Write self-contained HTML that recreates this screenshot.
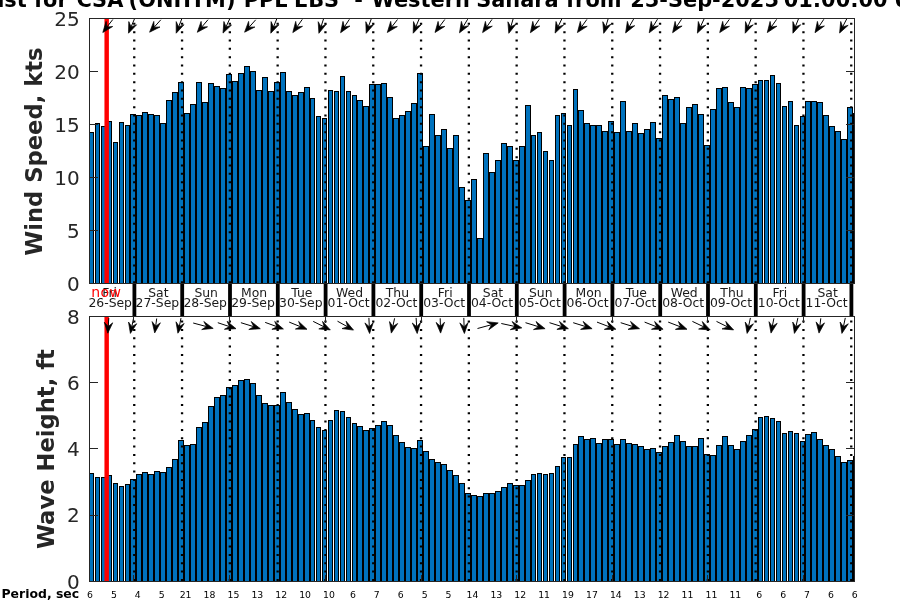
<!DOCTYPE html>
<html lang="en"><head><meta charset="utf-8"><title>Forecast</title>
<style>
html,body{margin:0;padding:0;background:#fff;}
body{width:900px;height:600px;overflow:hidden;position:relative;}
svg text{font-family:"DejaVu Sans","Liberation Sans",sans-serif;}
</style></head><body>
<svg width="900" height="600" viewBox="0 0 900 600" style="position:absolute;left:0;top:0;will-change:transform">
<text x="67.73" y="6.7" text-anchor="end" font-size="20.9" font-weight="bold" fill="#000">WW3 Forecast for</text>
<text y="6.7" font-size="20.9" font-weight="bold" fill="#000"><tspan x="76.4">CSA</tspan><tspan x="128.6">(ONHTM)</tspan><tspan x="243.7">PPL</tspan><tspan x="293.9">EBS</tspan><tspan x="354.2">-</tspan><tspan x="371.6">Western</tspan><tspan x="476.2">Sahara</tspan><tspan x="566.0">from</tspan><tspan x="630.2">25-Sep-2025</tspan><tspan x="783.7">01:00:00</tspan><tspan x="894.0">UTC</tspan></text>
<g shape-rendering="crispEdges">
<path d="M89 132H94V284H89ZM95 123H100V284H95ZM101 126H106V284H101ZM107 121H112V284H107ZM113 142H118V284H113ZM119 122H124V284H119ZM125 125H130V284H125ZM130 114H136V284H130ZM136 115H142V284H136ZM142 112H148V284H142ZM148 114H154V284H148ZM154 115H160V284H154ZM160 123H166V284H160ZM166 100H172V284H166ZM172 92H178V284H172ZM178 82H184V284H178ZM184 113H190V284H184ZM190 104H196V284H190ZM196 82H202V284H196ZM202 102H208V284H202ZM208 83H214V284H208ZM214 86H220V284H214ZM220 88H226V284H220ZM226 74H232V284H226ZM232 81H238V284H232ZM238 73H244V284H238ZM244 66H250V284H244ZM250 71H256V284H250ZM256 90H262V284H256ZM262 77H268V284H262ZM268 91H274V284H268ZM274 82H280V284H274ZM280 72H286V284H280ZM286 91H292V284H286ZM292 95H298V284H292ZM298 92H304V284H298ZM304 87H310V284H304ZM310 98H315V284H310ZM316 116H321V284H316ZM322 118H327V284H322ZM328 90H333V284H328ZM334 91H339V284H334ZM340 76H345V284H340ZM346 91H351V284H346ZM352 95H357V284H352ZM357 100H363V284H357ZM363 106H369V284H363ZM369 84H375V284H369ZM375 84H381V284H375ZM381 83H387V284H381ZM387 97H393V284H387ZM393 118H399V284H393ZM399 115H405V284H399ZM405 111H411V284H405ZM411 103H417V284H411ZM417 73H423V284H417ZM423 146H429V284H423ZM429 114H435V284H429ZM435 135H441V284H435ZM441 129H447V284H441ZM447 148H453V284H447ZM453 135H459V284H453ZM459 187H465V284H459ZM465 200H471V284H465ZM471 179H477V284H471ZM477 238H483V284H477ZM483 153H489V284H483ZM489 172H495V284H489ZM495 160H501V284H495ZM501 143H507V284H501ZM507 146H513V284H507ZM513 160H519V284H513ZM519 146H525V284H519ZM525 105H531V284H525ZM531 135H536V284H531ZM537 132H542V284H537ZM543 151H548V284H543ZM549 160H554V284H549ZM555 115H560V284H555ZM561 113H566V284H561ZM567 125H572V284H567ZM573 89H578V284H573ZM578 110H584V284H578ZM584 123H590V284H584ZM590 125H596V284H590ZM596 125H602V284H596ZM602 131H608V284H602ZM608 121H614V284H608ZM614 132H620V284H614ZM620 101H626V284H620ZM626 131H632V284H626ZM632 123H638V284H632ZM638 133H644V284H638ZM644 129H650V284H644ZM650 122H656V284H650ZM656 138H662V284H656ZM662 95H668V284H662ZM668 99H674V284H668ZM674 97H680V284H674ZM680 123H686V284H680ZM686 107H692V284H686ZM692 104H698V284H692ZM698 114H704V284H698ZM704 145H710V284H704ZM710 109H716V284H710ZM716 88H722V284H716ZM722 87H728V284H722ZM728 102H734V284H728ZM734 107H740V284H734ZM740 87H746V284H740ZM746 88H752V284H746ZM752 84H758V284H752ZM758 80H763V284H758ZM764 80H769V284H764ZM770 75H775V284H770ZM776 83H781V284H776ZM782 106H787V284H782ZM788 101H793V284H788ZM794 125H799V284H794ZM800 116H805V284H800ZM805 101H811V284H805ZM811 101H817V284H811ZM817 102H823V284H817ZM823 115H829V284H823ZM829 126H835V284H829ZM835 131H841V284H835ZM841 139H847V284H841ZM847 107H853V284H847ZM853 113H855V284H853Z" fill="#000"/>
<path d="M90 133H93V284H90ZM96 124H99V284H96ZM102 127H105V284H102ZM108 122H111V284H108ZM114 143H117V284H114ZM120 123H123V284H120ZM126 126H129V284H126ZM131 115H135V284H131ZM137 116H141V284H137ZM143 113H147V284H143ZM149 115H153V284H149ZM155 116H159V284H155ZM161 124H165V284H161ZM167 101H171V284H167ZM173 93H177V284H173ZM179 83H183V284H179ZM185 114H189V284H185ZM191 105H195V284H191ZM197 83H201V284H197ZM203 103H207V284H203ZM209 84H213V284H209ZM215 87H219V284H215ZM221 89H225V284H221ZM227 75H231V284H227ZM233 82H237V284H233ZM239 74H243V284H239ZM245 67H249V284H245ZM251 72H255V284H251ZM257 91H261V284H257ZM263 78H267V284H263ZM269 92H273V284H269ZM275 83H279V284H275ZM281 73H285V284H281ZM287 92H291V284H287ZM293 96H297V284H293ZM299 93H303V284H299ZM305 88H309V284H305ZM311 99H314V284H311ZM317 117H320V284H317ZM323 119H326V284H323ZM329 91H332V284H329ZM335 92H338V284H335ZM341 77H344V284H341ZM347 92H350V284H347ZM353 96H356V284H353ZM358 101H362V284H358ZM364 107H368V284H364ZM370 85H374V284H370ZM376 85H380V284H376ZM382 84H386V284H382ZM388 98H392V284H388ZM394 119H398V284H394ZM400 116H404V284H400ZM406 112H410V284H406ZM412 104H416V284H412ZM418 74H422V284H418ZM424 147H428V284H424ZM430 115H434V284H430ZM436 136H440V284H436ZM442 130H446V284H442ZM448 149H452V284H448ZM454 136H458V284H454ZM460 188H464V284H460ZM466 201H470V284H466ZM472 180H476V284H472ZM478 239H482V284H478ZM484 154H488V284H484ZM490 173H494V284H490ZM496 161H500V284H496ZM502 144H506V284H502ZM508 147H512V284H508ZM514 161H518V284H514ZM520 147H524V284H520ZM526 106H530V284H526ZM532 136H535V284H532ZM538 133H541V284H538ZM544 152H547V284H544ZM550 161H553V284H550ZM556 116H559V284H556ZM562 114H565V284H562ZM568 126H571V284H568ZM574 90H577V284H574ZM579 111H583V284H579ZM585 124H589V284H585ZM591 126H595V284H591ZM597 126H601V284H597ZM603 132H607V284H603ZM609 122H613V284H609ZM615 133H619V284H615ZM621 102H625V284H621ZM627 132H631V284H627ZM633 124H637V284H633ZM639 134H643V284H639ZM645 130H649V284H645ZM651 123H655V284H651ZM657 139H661V284H657ZM663 96H667V284H663ZM669 100H673V284H669ZM675 98H679V284H675ZM681 124H685V284H681ZM687 108H691V284H687ZM693 105H697V284H693ZM699 115H703V284H699ZM705 146H709V284H705ZM711 110H715V284H711ZM717 89H721V284H717ZM723 88H727V284H723ZM729 103H733V284H729ZM735 108H739V284H735ZM741 88H745V284H741ZM747 89H751V284H747ZM753 85H757V284H753ZM759 81H762V284H759ZM765 81H768V284H765ZM771 76H774V284H771ZM777 84H780V284H777ZM783 107H786V284H783ZM789 102H792V284H789ZM795 126H798V284H795ZM801 117H804V284H801ZM806 102H810V284H806ZM812 102H816V284H812ZM818 103H822V284H818ZM824 116H828V284H824ZM830 127H834V284H830ZM836 132H840V284H836ZM842 140H846V284H842ZM848 108H852V284H848Z" fill="#0072BD"/>
<rect x="104.45" y="18" width="4.45" height="266" fill="#f00" shape-rendering="auto"/>
</g>
<path d="M133.10 281.20h2.3v2h-2.3zM133.10 272.87h2.3v2h-2.3zM133.10 264.53h2.3v2h-2.3zM133.10 256.20h2.3v2h-2.3zM133.10 247.87h2.3v2h-2.3zM133.10 239.53h2.3v2h-2.3zM133.10 231.20h2.3v2h-2.3zM133.10 222.87h2.3v2h-2.3zM133.10 214.53h2.3v2h-2.3zM133.10 206.20h2.3v2h-2.3zM133.10 197.87h2.3v2h-2.3zM133.10 189.53h2.3v2h-2.3zM133.10 181.20h2.3v2h-2.3zM133.10 172.87h2.3v2h-2.3zM133.10 164.53h2.3v2h-2.3zM133.10 156.20h2.3v2h-2.3zM133.10 147.87h2.3v2h-2.3zM133.10 139.53h2.3v2h-2.3zM133.10 131.20h2.3v2h-2.3zM133.10 122.87h2.3v2h-2.3zM133.10 114.53h2.3v2h-2.3zM133.10 106.20h2.3v2h-2.3zM133.10 97.87h2.3v2h-2.3zM133.10 89.53h2.3v2h-2.3zM133.10 81.20h2.3v2h-2.3zM133.10 72.87h2.3v2h-2.3zM133.10 64.53h2.3v2h-2.3zM133.10 56.20h2.3v2h-2.3zM133.10 47.87h2.3v2h-2.3zM133.10 39.53h2.3v2h-2.3zM133.10 31.20h2.3v2h-2.3zM133.10 22.87h2.3v2h-2.3z" fill="#000"/>
<path d="M180.90 281.20h2.3v2h-2.3zM180.90 272.87h2.3v2h-2.3zM180.90 264.53h2.3v2h-2.3zM180.90 256.20h2.3v2h-2.3zM180.90 247.87h2.3v2h-2.3zM180.90 239.53h2.3v2h-2.3zM180.90 231.20h2.3v2h-2.3zM180.90 222.87h2.3v2h-2.3zM180.90 214.53h2.3v2h-2.3zM180.90 206.20h2.3v2h-2.3zM180.90 197.87h2.3v2h-2.3zM180.90 189.53h2.3v2h-2.3zM180.90 181.20h2.3v2h-2.3zM180.90 172.87h2.3v2h-2.3zM180.90 164.53h2.3v2h-2.3zM180.90 156.20h2.3v2h-2.3zM180.90 147.87h2.3v2h-2.3zM180.90 139.53h2.3v2h-2.3zM180.90 131.20h2.3v2h-2.3zM180.90 122.87h2.3v2h-2.3zM180.90 114.53h2.3v2h-2.3zM180.90 106.20h2.3v2h-2.3zM180.90 97.87h2.3v2h-2.3zM180.90 89.53h2.3v2h-2.3zM180.90 81.20h2.3v2h-2.3zM180.90 72.87h2.3v2h-2.3zM180.90 64.53h2.3v2h-2.3zM180.90 56.20h2.3v2h-2.3zM180.90 47.87h2.3v2h-2.3zM180.90 39.53h2.3v2h-2.3zM180.90 31.20h2.3v2h-2.3zM180.90 22.87h2.3v2h-2.3z" fill="#000"/>
<path d="M228.70 281.20h2.3v2h-2.3zM228.70 272.87h2.3v2h-2.3zM228.70 264.53h2.3v2h-2.3zM228.70 256.20h2.3v2h-2.3zM228.70 247.87h2.3v2h-2.3zM228.70 239.53h2.3v2h-2.3zM228.70 231.20h2.3v2h-2.3zM228.70 222.87h2.3v2h-2.3zM228.70 214.53h2.3v2h-2.3zM228.70 206.20h2.3v2h-2.3zM228.70 197.87h2.3v2h-2.3zM228.70 189.53h2.3v2h-2.3zM228.70 181.20h2.3v2h-2.3zM228.70 172.87h2.3v2h-2.3zM228.70 164.53h2.3v2h-2.3zM228.70 156.20h2.3v2h-2.3zM228.70 147.87h2.3v2h-2.3zM228.70 139.53h2.3v2h-2.3zM228.70 131.20h2.3v2h-2.3zM228.70 122.87h2.3v2h-2.3zM228.70 114.53h2.3v2h-2.3zM228.70 106.20h2.3v2h-2.3zM228.70 97.87h2.3v2h-2.3zM228.70 89.53h2.3v2h-2.3zM228.70 81.20h2.3v2h-2.3zM228.70 72.87h2.3v2h-2.3zM228.70 64.53h2.3v2h-2.3zM228.70 56.20h2.3v2h-2.3zM228.70 47.87h2.3v2h-2.3zM228.70 39.53h2.3v2h-2.3zM228.70 31.20h2.3v2h-2.3zM228.70 22.87h2.3v2h-2.3z" fill="#000"/>
<path d="M276.50 281.20h2.3v2h-2.3zM276.50 272.87h2.3v2h-2.3zM276.50 264.53h2.3v2h-2.3zM276.50 256.20h2.3v2h-2.3zM276.50 247.87h2.3v2h-2.3zM276.50 239.53h2.3v2h-2.3zM276.50 231.20h2.3v2h-2.3zM276.50 222.87h2.3v2h-2.3zM276.50 214.53h2.3v2h-2.3zM276.50 206.20h2.3v2h-2.3zM276.50 197.87h2.3v2h-2.3zM276.50 189.53h2.3v2h-2.3zM276.50 181.20h2.3v2h-2.3zM276.50 172.87h2.3v2h-2.3zM276.50 164.53h2.3v2h-2.3zM276.50 156.20h2.3v2h-2.3zM276.50 147.87h2.3v2h-2.3zM276.50 139.53h2.3v2h-2.3zM276.50 131.20h2.3v2h-2.3zM276.50 122.87h2.3v2h-2.3zM276.50 114.53h2.3v2h-2.3zM276.50 106.20h2.3v2h-2.3zM276.50 97.87h2.3v2h-2.3zM276.50 89.53h2.3v2h-2.3zM276.50 81.20h2.3v2h-2.3zM276.50 72.87h2.3v2h-2.3zM276.50 64.53h2.3v2h-2.3zM276.50 56.20h2.3v2h-2.3zM276.50 47.87h2.3v2h-2.3zM276.50 39.53h2.3v2h-2.3zM276.50 31.20h2.3v2h-2.3zM276.50 22.87h2.3v2h-2.3z" fill="#000"/>
<path d="M324.30 281.20h2.3v2h-2.3zM324.30 272.87h2.3v2h-2.3zM324.30 264.53h2.3v2h-2.3zM324.30 256.20h2.3v2h-2.3zM324.30 247.87h2.3v2h-2.3zM324.30 239.53h2.3v2h-2.3zM324.30 231.20h2.3v2h-2.3zM324.30 222.87h2.3v2h-2.3zM324.30 214.53h2.3v2h-2.3zM324.30 206.20h2.3v2h-2.3zM324.30 197.87h2.3v2h-2.3zM324.30 189.53h2.3v2h-2.3zM324.30 181.20h2.3v2h-2.3zM324.30 172.87h2.3v2h-2.3zM324.30 164.53h2.3v2h-2.3zM324.30 156.20h2.3v2h-2.3zM324.30 147.87h2.3v2h-2.3zM324.30 139.53h2.3v2h-2.3zM324.30 131.20h2.3v2h-2.3zM324.30 122.87h2.3v2h-2.3zM324.30 114.53h2.3v2h-2.3zM324.30 106.20h2.3v2h-2.3zM324.30 97.87h2.3v2h-2.3zM324.30 89.53h2.3v2h-2.3zM324.30 81.20h2.3v2h-2.3zM324.30 72.87h2.3v2h-2.3zM324.30 64.53h2.3v2h-2.3zM324.30 56.20h2.3v2h-2.3zM324.30 47.87h2.3v2h-2.3zM324.30 39.53h2.3v2h-2.3zM324.30 31.20h2.3v2h-2.3zM324.30 22.87h2.3v2h-2.3z" fill="#000"/>
<path d="M372.10 281.20h2.3v2h-2.3zM372.10 272.87h2.3v2h-2.3zM372.10 264.53h2.3v2h-2.3zM372.10 256.20h2.3v2h-2.3zM372.10 247.87h2.3v2h-2.3zM372.10 239.53h2.3v2h-2.3zM372.10 231.20h2.3v2h-2.3zM372.10 222.87h2.3v2h-2.3zM372.10 214.53h2.3v2h-2.3zM372.10 206.20h2.3v2h-2.3zM372.10 197.87h2.3v2h-2.3zM372.10 189.53h2.3v2h-2.3zM372.10 181.20h2.3v2h-2.3zM372.10 172.87h2.3v2h-2.3zM372.10 164.53h2.3v2h-2.3zM372.10 156.20h2.3v2h-2.3zM372.10 147.87h2.3v2h-2.3zM372.10 139.53h2.3v2h-2.3zM372.10 131.20h2.3v2h-2.3zM372.10 122.87h2.3v2h-2.3zM372.10 114.53h2.3v2h-2.3zM372.10 106.20h2.3v2h-2.3zM372.10 97.87h2.3v2h-2.3zM372.10 89.53h2.3v2h-2.3zM372.10 81.20h2.3v2h-2.3zM372.10 72.87h2.3v2h-2.3zM372.10 64.53h2.3v2h-2.3zM372.10 56.20h2.3v2h-2.3zM372.10 47.87h2.3v2h-2.3zM372.10 39.53h2.3v2h-2.3zM372.10 31.20h2.3v2h-2.3zM372.10 22.87h2.3v2h-2.3z" fill="#000"/>
<path d="M419.90 281.20h2.3v2h-2.3zM419.90 272.87h2.3v2h-2.3zM419.90 264.53h2.3v2h-2.3zM419.90 256.20h2.3v2h-2.3zM419.90 247.87h2.3v2h-2.3zM419.90 239.53h2.3v2h-2.3zM419.90 231.20h2.3v2h-2.3zM419.90 222.87h2.3v2h-2.3zM419.90 214.53h2.3v2h-2.3zM419.90 206.20h2.3v2h-2.3zM419.90 197.87h2.3v2h-2.3zM419.90 189.53h2.3v2h-2.3zM419.90 181.20h2.3v2h-2.3zM419.90 172.87h2.3v2h-2.3zM419.90 164.53h2.3v2h-2.3zM419.90 156.20h2.3v2h-2.3zM419.90 147.87h2.3v2h-2.3zM419.90 139.53h2.3v2h-2.3zM419.90 131.20h2.3v2h-2.3zM419.90 122.87h2.3v2h-2.3zM419.90 114.53h2.3v2h-2.3zM419.90 106.20h2.3v2h-2.3zM419.90 97.87h2.3v2h-2.3zM419.90 89.53h2.3v2h-2.3zM419.90 81.20h2.3v2h-2.3zM419.90 72.87h2.3v2h-2.3zM419.90 64.53h2.3v2h-2.3zM419.90 56.20h2.3v2h-2.3zM419.90 47.87h2.3v2h-2.3zM419.90 39.53h2.3v2h-2.3zM419.90 31.20h2.3v2h-2.3zM419.90 22.87h2.3v2h-2.3z" fill="#000"/>
<path d="M467.70 281.20h2.3v2h-2.3zM467.70 272.87h2.3v2h-2.3zM467.70 264.53h2.3v2h-2.3zM467.70 256.20h2.3v2h-2.3zM467.70 247.87h2.3v2h-2.3zM467.70 239.53h2.3v2h-2.3zM467.70 231.20h2.3v2h-2.3zM467.70 222.87h2.3v2h-2.3zM467.70 214.53h2.3v2h-2.3zM467.70 206.20h2.3v2h-2.3zM467.70 197.87h2.3v2h-2.3zM467.70 189.53h2.3v2h-2.3zM467.70 181.20h2.3v2h-2.3zM467.70 172.87h2.3v2h-2.3zM467.70 164.53h2.3v2h-2.3zM467.70 156.20h2.3v2h-2.3zM467.70 147.87h2.3v2h-2.3zM467.70 139.53h2.3v2h-2.3zM467.70 131.20h2.3v2h-2.3zM467.70 122.87h2.3v2h-2.3zM467.70 114.53h2.3v2h-2.3zM467.70 106.20h2.3v2h-2.3zM467.70 97.87h2.3v2h-2.3zM467.70 89.53h2.3v2h-2.3zM467.70 81.20h2.3v2h-2.3zM467.70 72.87h2.3v2h-2.3zM467.70 64.53h2.3v2h-2.3zM467.70 56.20h2.3v2h-2.3zM467.70 47.87h2.3v2h-2.3zM467.70 39.53h2.3v2h-2.3zM467.70 31.20h2.3v2h-2.3zM467.70 22.87h2.3v2h-2.3z" fill="#000"/>
<path d="M515.50 281.20h2.3v2h-2.3zM515.50 272.87h2.3v2h-2.3zM515.50 264.53h2.3v2h-2.3zM515.50 256.20h2.3v2h-2.3zM515.50 247.87h2.3v2h-2.3zM515.50 239.53h2.3v2h-2.3zM515.50 231.20h2.3v2h-2.3zM515.50 222.87h2.3v2h-2.3zM515.50 214.53h2.3v2h-2.3zM515.50 206.20h2.3v2h-2.3zM515.50 197.87h2.3v2h-2.3zM515.50 189.53h2.3v2h-2.3zM515.50 181.20h2.3v2h-2.3zM515.50 172.87h2.3v2h-2.3zM515.50 164.53h2.3v2h-2.3zM515.50 156.20h2.3v2h-2.3zM515.50 147.87h2.3v2h-2.3zM515.50 139.53h2.3v2h-2.3zM515.50 131.20h2.3v2h-2.3zM515.50 122.87h2.3v2h-2.3zM515.50 114.53h2.3v2h-2.3zM515.50 106.20h2.3v2h-2.3zM515.50 97.87h2.3v2h-2.3zM515.50 89.53h2.3v2h-2.3zM515.50 81.20h2.3v2h-2.3zM515.50 72.87h2.3v2h-2.3zM515.50 64.53h2.3v2h-2.3zM515.50 56.20h2.3v2h-2.3zM515.50 47.87h2.3v2h-2.3zM515.50 39.53h2.3v2h-2.3zM515.50 31.20h2.3v2h-2.3zM515.50 22.87h2.3v2h-2.3z" fill="#000"/>
<path d="M563.30 281.20h2.3v2h-2.3zM563.30 272.87h2.3v2h-2.3zM563.30 264.53h2.3v2h-2.3zM563.30 256.20h2.3v2h-2.3zM563.30 247.87h2.3v2h-2.3zM563.30 239.53h2.3v2h-2.3zM563.30 231.20h2.3v2h-2.3zM563.30 222.87h2.3v2h-2.3zM563.30 214.53h2.3v2h-2.3zM563.30 206.20h2.3v2h-2.3zM563.30 197.87h2.3v2h-2.3zM563.30 189.53h2.3v2h-2.3zM563.30 181.20h2.3v2h-2.3zM563.30 172.87h2.3v2h-2.3zM563.30 164.53h2.3v2h-2.3zM563.30 156.20h2.3v2h-2.3zM563.30 147.87h2.3v2h-2.3zM563.30 139.53h2.3v2h-2.3zM563.30 131.20h2.3v2h-2.3zM563.30 122.87h2.3v2h-2.3zM563.30 114.53h2.3v2h-2.3zM563.30 106.20h2.3v2h-2.3zM563.30 97.87h2.3v2h-2.3zM563.30 89.53h2.3v2h-2.3zM563.30 81.20h2.3v2h-2.3zM563.30 72.87h2.3v2h-2.3zM563.30 64.53h2.3v2h-2.3zM563.30 56.20h2.3v2h-2.3zM563.30 47.87h2.3v2h-2.3zM563.30 39.53h2.3v2h-2.3zM563.30 31.20h2.3v2h-2.3zM563.30 22.87h2.3v2h-2.3z" fill="#000"/>
<path d="M611.10 281.20h2.3v2h-2.3zM611.10 272.87h2.3v2h-2.3zM611.10 264.53h2.3v2h-2.3zM611.10 256.20h2.3v2h-2.3zM611.10 247.87h2.3v2h-2.3zM611.10 239.53h2.3v2h-2.3zM611.10 231.20h2.3v2h-2.3zM611.10 222.87h2.3v2h-2.3zM611.10 214.53h2.3v2h-2.3zM611.10 206.20h2.3v2h-2.3zM611.10 197.87h2.3v2h-2.3zM611.10 189.53h2.3v2h-2.3zM611.10 181.20h2.3v2h-2.3zM611.10 172.87h2.3v2h-2.3zM611.10 164.53h2.3v2h-2.3zM611.10 156.20h2.3v2h-2.3zM611.10 147.87h2.3v2h-2.3zM611.10 139.53h2.3v2h-2.3zM611.10 131.20h2.3v2h-2.3zM611.10 122.87h2.3v2h-2.3zM611.10 114.53h2.3v2h-2.3zM611.10 106.20h2.3v2h-2.3zM611.10 97.87h2.3v2h-2.3zM611.10 89.53h2.3v2h-2.3zM611.10 81.20h2.3v2h-2.3zM611.10 72.87h2.3v2h-2.3zM611.10 64.53h2.3v2h-2.3zM611.10 56.20h2.3v2h-2.3zM611.10 47.87h2.3v2h-2.3zM611.10 39.53h2.3v2h-2.3zM611.10 31.20h2.3v2h-2.3zM611.10 22.87h2.3v2h-2.3z" fill="#000"/>
<path d="M658.90 281.20h2.3v2h-2.3zM658.90 272.87h2.3v2h-2.3zM658.90 264.53h2.3v2h-2.3zM658.90 256.20h2.3v2h-2.3zM658.90 247.87h2.3v2h-2.3zM658.90 239.53h2.3v2h-2.3zM658.90 231.20h2.3v2h-2.3zM658.90 222.87h2.3v2h-2.3zM658.90 214.53h2.3v2h-2.3zM658.90 206.20h2.3v2h-2.3zM658.90 197.87h2.3v2h-2.3zM658.90 189.53h2.3v2h-2.3zM658.90 181.20h2.3v2h-2.3zM658.90 172.87h2.3v2h-2.3zM658.90 164.53h2.3v2h-2.3zM658.90 156.20h2.3v2h-2.3zM658.90 147.87h2.3v2h-2.3zM658.90 139.53h2.3v2h-2.3zM658.90 131.20h2.3v2h-2.3zM658.90 122.87h2.3v2h-2.3zM658.90 114.53h2.3v2h-2.3zM658.90 106.20h2.3v2h-2.3zM658.90 97.87h2.3v2h-2.3zM658.90 89.53h2.3v2h-2.3zM658.90 81.20h2.3v2h-2.3zM658.90 72.87h2.3v2h-2.3zM658.90 64.53h2.3v2h-2.3zM658.90 56.20h2.3v2h-2.3zM658.90 47.87h2.3v2h-2.3zM658.90 39.53h2.3v2h-2.3zM658.90 31.20h2.3v2h-2.3zM658.90 22.87h2.3v2h-2.3z" fill="#000"/>
<path d="M706.70 281.20h2.3v2h-2.3zM706.70 272.87h2.3v2h-2.3zM706.70 264.53h2.3v2h-2.3zM706.70 256.20h2.3v2h-2.3zM706.70 247.87h2.3v2h-2.3zM706.70 239.53h2.3v2h-2.3zM706.70 231.20h2.3v2h-2.3zM706.70 222.87h2.3v2h-2.3zM706.70 214.53h2.3v2h-2.3zM706.70 206.20h2.3v2h-2.3zM706.70 197.87h2.3v2h-2.3zM706.70 189.53h2.3v2h-2.3zM706.70 181.20h2.3v2h-2.3zM706.70 172.87h2.3v2h-2.3zM706.70 164.53h2.3v2h-2.3zM706.70 156.20h2.3v2h-2.3zM706.70 147.87h2.3v2h-2.3zM706.70 139.53h2.3v2h-2.3zM706.70 131.20h2.3v2h-2.3zM706.70 122.87h2.3v2h-2.3zM706.70 114.53h2.3v2h-2.3zM706.70 106.20h2.3v2h-2.3zM706.70 97.87h2.3v2h-2.3zM706.70 89.53h2.3v2h-2.3zM706.70 81.20h2.3v2h-2.3zM706.70 72.87h2.3v2h-2.3zM706.70 64.53h2.3v2h-2.3zM706.70 56.20h2.3v2h-2.3zM706.70 47.87h2.3v2h-2.3zM706.70 39.53h2.3v2h-2.3zM706.70 31.20h2.3v2h-2.3zM706.70 22.87h2.3v2h-2.3z" fill="#000"/>
<path d="M754.50 281.20h2.3v2h-2.3zM754.50 272.87h2.3v2h-2.3zM754.50 264.53h2.3v2h-2.3zM754.50 256.20h2.3v2h-2.3zM754.50 247.87h2.3v2h-2.3zM754.50 239.53h2.3v2h-2.3zM754.50 231.20h2.3v2h-2.3zM754.50 222.87h2.3v2h-2.3zM754.50 214.53h2.3v2h-2.3zM754.50 206.20h2.3v2h-2.3zM754.50 197.87h2.3v2h-2.3zM754.50 189.53h2.3v2h-2.3zM754.50 181.20h2.3v2h-2.3zM754.50 172.87h2.3v2h-2.3zM754.50 164.53h2.3v2h-2.3zM754.50 156.20h2.3v2h-2.3zM754.50 147.87h2.3v2h-2.3zM754.50 139.53h2.3v2h-2.3zM754.50 131.20h2.3v2h-2.3zM754.50 122.87h2.3v2h-2.3zM754.50 114.53h2.3v2h-2.3zM754.50 106.20h2.3v2h-2.3zM754.50 97.87h2.3v2h-2.3zM754.50 89.53h2.3v2h-2.3zM754.50 81.20h2.3v2h-2.3zM754.50 72.87h2.3v2h-2.3zM754.50 64.53h2.3v2h-2.3zM754.50 56.20h2.3v2h-2.3zM754.50 47.87h2.3v2h-2.3zM754.50 39.53h2.3v2h-2.3zM754.50 31.20h2.3v2h-2.3zM754.50 22.87h2.3v2h-2.3z" fill="#000"/>
<path d="M802.30 281.20h2.3v2h-2.3zM802.30 272.87h2.3v2h-2.3zM802.30 264.53h2.3v2h-2.3zM802.30 256.20h2.3v2h-2.3zM802.30 247.87h2.3v2h-2.3zM802.30 239.53h2.3v2h-2.3zM802.30 231.20h2.3v2h-2.3zM802.30 222.87h2.3v2h-2.3zM802.30 214.53h2.3v2h-2.3zM802.30 206.20h2.3v2h-2.3zM802.30 197.87h2.3v2h-2.3zM802.30 189.53h2.3v2h-2.3zM802.30 181.20h2.3v2h-2.3zM802.30 172.87h2.3v2h-2.3zM802.30 164.53h2.3v2h-2.3zM802.30 156.20h2.3v2h-2.3zM802.30 147.87h2.3v2h-2.3zM802.30 139.53h2.3v2h-2.3zM802.30 131.20h2.3v2h-2.3zM802.30 122.87h2.3v2h-2.3zM802.30 114.53h2.3v2h-2.3zM802.30 106.20h2.3v2h-2.3zM802.30 97.87h2.3v2h-2.3zM802.30 89.53h2.3v2h-2.3zM802.30 81.20h2.3v2h-2.3zM802.30 72.87h2.3v2h-2.3zM802.30 64.53h2.3v2h-2.3zM802.30 56.20h2.3v2h-2.3zM802.30 47.87h2.3v2h-2.3zM802.30 39.53h2.3v2h-2.3zM802.30 31.20h2.3v2h-2.3zM802.30 22.87h2.3v2h-2.3z" fill="#000"/>
<path d="M850.10 281.20h2.3v2h-2.3zM850.10 272.87h2.3v2h-2.3zM850.10 264.53h2.3v2h-2.3zM850.10 256.20h2.3v2h-2.3zM850.10 247.87h2.3v2h-2.3zM850.10 239.53h2.3v2h-2.3zM850.10 231.20h2.3v2h-2.3zM850.10 222.87h2.3v2h-2.3zM850.10 214.53h2.3v2h-2.3zM850.10 206.20h2.3v2h-2.3zM850.10 197.87h2.3v2h-2.3zM850.10 189.53h2.3v2h-2.3zM850.10 181.20h2.3v2h-2.3zM850.10 172.87h2.3v2h-2.3zM850.10 164.53h2.3v2h-2.3zM850.10 156.20h2.3v2h-2.3zM850.10 147.87h2.3v2h-2.3zM850.10 139.53h2.3v2h-2.3zM850.10 131.20h2.3v2h-2.3zM850.10 122.87h2.3v2h-2.3zM850.10 114.53h2.3v2h-2.3zM850.10 106.20h2.3v2h-2.3zM850.10 97.87h2.3v2h-2.3zM850.10 89.53h2.3v2h-2.3zM850.10 81.20h2.3v2h-2.3zM850.10 72.87h2.3v2h-2.3zM850.10 64.53h2.3v2h-2.3zM850.10 56.20h2.3v2h-2.3zM850.10 47.87h2.3v2h-2.3zM850.10 39.53h2.3v2h-2.3zM850.10 31.20h2.3v2h-2.3zM850.10 22.87h2.3v2h-2.3z" fill="#000"/>
<path d="M112.8 19.5L106.9 27.1" stroke="#000" stroke-width="1" fill="none"/><path d="M102.8 32.5L106.1 21.4L106.9 27.1L112.7 26.5Z" fill="#000" stroke="#000" stroke-width="0.7" stroke-linejoin="miter"/>
<path d="M134.5 18.8L131.1 26.9" stroke="#000" stroke-width="1" fill="none"/><path d="M128.5 33.2L128.8 21.6L131.1 26.9L136.6 24.8Z" fill="#000" stroke="#000" stroke-width="0.7" stroke-linejoin="miter"/>
<path d="M160.8 19.8L154.2 27.2" stroke="#000" stroke-width="1" fill="none"/><path d="M149.6 32.2L153.8 21.4L154.2 27.2L160.0 27.0Z" fill="#000" stroke="#000" stroke-width="0.7" stroke-linejoin="miter"/>
<path d="M181.8 18.8L178.6 26.9" stroke="#000" stroke-width="1" fill="none"/><path d="M176.2 33.2L176.2 21.6L178.6 26.9L184.0 24.7Z" fill="#000" stroke="#000" stroke-width="0.7" stroke-linejoin="miter"/>
<path d="M208.0 19.7L201.7 27.1" stroke="#000" stroke-width="1" fill="none"/><path d="M197.3 32.3L201.1 21.4L201.7 27.1L207.5 26.8Z" fill="#000" stroke="#000" stroke-width="0.7" stroke-linejoin="miter"/>
<path d="M229.7 18.9L226.0 26.9" stroke="#000" stroke-width="1" fill="none"/><path d="M223.0 33.1L223.9 21.5L226.0 26.9L231.5 25.1Z" fill="#000" stroke="#000" stroke-width="0.7" stroke-linejoin="miter"/>
<path d="M255.7 19.8L249.1 27.2" stroke="#000" stroke-width="1" fill="none"/><path d="M244.6 32.2L248.6 21.4L249.1 27.2L254.9 27.0Z" fill="#000" stroke="#000" stroke-width="0.7" stroke-linejoin="miter"/>
<path d="M276.8 18.8L273.5 26.9" stroke="#000" stroke-width="1" fill="none"/><path d="M270.8 33.2L271.1 21.6L273.5 26.9L278.9 24.8Z" fill="#000" stroke="#000" stroke-width="0.7" stroke-linejoin="miter"/>
<path d="M302.3 19.4L296.8 27.1" stroke="#000" stroke-width="1" fill="none"/><path d="M292.8 32.6L295.7 21.4L296.8 27.1L302.5 26.3Z" fill="#000" stroke="#000" stroke-width="0.7" stroke-linejoin="miter"/>
<path d="M323.6 18.7L321.0 26.8" stroke="#000" stroke-width="1" fill="none"/><path d="M318.9 33.3L318.2 21.7L321.0 26.8L326.2 24.3Z" fill="#000" stroke="#000" stroke-width="0.7" stroke-linejoin="miter"/>
<path d="M349.4 19.3L344.3 27.0" stroke="#000" stroke-width="1" fill="none"/><path d="M340.6 32.7L343.0 21.4L344.3 27.0L350.0 26.0Z" fill="#000" stroke="#000" stroke-width="0.7" stroke-linejoin="miter"/>
<path d="M371.3 18.7L368.4 26.8" stroke="#000" stroke-width="1" fill="none"/><path d="M366.2 33.3L365.8 21.7L368.4 26.8L373.7 24.5Z" fill="#000" stroke="#000" stroke-width="0.7" stroke-linejoin="miter"/>
<path d="M397.5 19.5L391.6 27.1" stroke="#000" stroke-width="1" fill="none"/><path d="M387.3 32.5L390.7 21.4L391.6 27.1L397.3 26.6Z" fill="#000" stroke="#000" stroke-width="0.7" stroke-linejoin="miter"/>
<path d="M419.2 18.8L415.8 26.9" stroke="#000" stroke-width="1" fill="none"/><path d="M413.2 33.2L413.5 21.6L415.8 26.9L421.2 24.8Z" fill="#000" stroke="#000" stroke-width="0.7" stroke-linejoin="miter"/>
<path d="M444.8 19.5L439.1 27.1" stroke="#000" stroke-width="1" fill="none"/><path d="M435.0 32.5L438.1 21.4L439.1 27.1L444.8 26.4Z" fill="#000" stroke="#000" stroke-width="0.7" stroke-linejoin="miter"/>
<path d="M467.7 19.2L463.0 27.0" stroke="#000" stroke-width="1" fill="none"/><path d="M459.5 32.8L461.4 21.4L463.0 27.0L468.7 25.7Z" fill="#000" stroke="#000" stroke-width="0.7" stroke-linejoin="miter"/>
<path d="M492.0 19.4L486.6 27.1" stroke="#000" stroke-width="1" fill="none"/><path d="M482.6 32.6L485.4 21.4L486.6 27.1L492.3 26.2Z" fill="#000" stroke="#000" stroke-width="0.7" stroke-linejoin="miter"/>
<path d="M513.2 18.7L510.8 26.8" stroke="#000" stroke-width="1" fill="none"/><path d="M508.8 33.3L507.9 21.8L510.8 26.8L516.0 24.2Z" fill="#000" stroke="#000" stroke-width="0.7" stroke-linejoin="miter"/>
<path d="M539.2 19.3L534.1 27.0" stroke="#000" stroke-width="1" fill="none"/><path d="M530.4 32.7L532.8 21.4L534.1 27.0L539.8 26.0Z" fill="#000" stroke="#000" stroke-width="0.7" stroke-linejoin="miter"/>
<path d="M561.8 18.9L558.0 26.9" stroke="#000" stroke-width="1" fill="none"/><path d="M555.1 33.1L556.0 21.5L558.0 26.9L563.6 25.1Z" fill="#000" stroke="#000" stroke-width="0.7" stroke-linejoin="miter"/>
<path d="M586.9 19.4L581.4 27.1" stroke="#000" stroke-width="1" fill="none"/><path d="M577.4 32.6L580.3 21.4L581.4 27.1L587.2 26.3Z" fill="#000" stroke="#000" stroke-width="0.7" stroke-linejoin="miter"/>
<path d="M608.2 18.7L605.7 26.8" stroke="#000" stroke-width="1" fill="none"/><path d="M603.7 33.3L602.8 21.7L605.7 26.8L610.9 24.2Z" fill="#000" stroke="#000" stroke-width="0.7" stroke-linejoin="miter"/>
<path d="M633.6 19.1L629.1 27.0" stroke="#000" stroke-width="1" fill="none"/><path d="M625.6 32.9L627.4 21.4L629.1 27.0L634.7 25.7Z" fill="#000" stroke="#000" stroke-width="0.7" stroke-linejoin="miter"/>
<path d="M657.5 19.2L652.7 27.0" stroke="#000" stroke-width="1" fill="none"/><path d="M649.2 32.8L651.2 21.4L652.7 27.0L658.4 25.8Z" fill="#000" stroke="#000" stroke-width="0.7" stroke-linejoin="miter"/>
<path d="M681.5 19.3L676.4 27.0" stroke="#000" stroke-width="1" fill="none"/><path d="M672.6 32.7L675.1 21.4L676.4 27.0L682.1 26.0Z" fill="#000" stroke="#000" stroke-width="0.7" stroke-linejoin="miter"/>
<path d="M704.1 18.9L700.4 26.9" stroke="#000" stroke-width="1" fill="none"/><path d="M697.4 33.1L698.3 21.5L700.4 26.9L705.9 25.1Z" fill="#000" stroke="#000" stroke-width="0.7" stroke-linejoin="miter"/>
<path d="M729.3 19.4L723.7 27.1" stroke="#000" stroke-width="1" fill="none"/><path d="M719.7 32.6L722.7 21.4L723.7 27.1L729.5 26.3Z" fill="#000" stroke="#000" stroke-width="0.7" stroke-linejoin="miter"/>
<path d="M751.2 18.8L747.9 26.9" stroke="#000" stroke-width="1" fill="none"/><path d="M745.2 33.2L745.5 21.6L747.9 26.9L753.3 24.8Z" fill="#000" stroke="#000" stroke-width="0.7" stroke-linejoin="miter"/>
<path d="M776.6 19.4L771.2 27.1" stroke="#000" stroke-width="1" fill="none"/><path d="M767.3 32.6L770.1 21.4L771.2 27.1L776.9 26.2Z" fill="#000" stroke="#000" stroke-width="0.7" stroke-linejoin="miter"/>
<path d="M798.5 18.8L795.3 26.9" stroke="#000" stroke-width="1" fill="none"/><path d="M792.9 33.2L792.9 21.6L795.3 26.9L800.7 24.7Z" fill="#000" stroke="#000" stroke-width="0.7" stroke-linejoin="miter"/>
<path d="M823.8 19.3L818.7 27.0" stroke="#000" stroke-width="1" fill="none"/><path d="M815.0 32.7L817.4 21.4L818.7 27.0L824.4 26.0Z" fill="#000" stroke="#000" stroke-width="0.7" stroke-linejoin="miter"/>
<path d="M846.7 19.0L842.6 26.9" stroke="#000" stroke-width="1" fill="none"/><path d="M839.6 33.0L840.7 21.5L842.6 26.9L848.2 25.3Z" fill="#000" stroke="#000" stroke-width="0.7" stroke-linejoin="miter"/>
<g shape-rendering="crispEdges" fill="#262626">
<path d="M89 18H855V284H89ZM90 19V283H854V19Z" fill-rule="evenodd"/>
<rect x="90" y="283" width="8" height="1"/><rect x="846" y="283" width="8" height="1"/>
<rect x="90" y="230" width="8" height="1"/><rect x="846" y="230" width="8" height="1"/>
<rect x="90" y="177" width="8" height="1"/><rect x="846" y="177" width="8" height="1"/>
<rect x="90" y="124" width="8" height="1"/><rect x="846" y="124" width="8" height="1"/>
<rect x="90" y="71" width="8" height="1"/><rect x="846" y="71" width="8" height="1"/>
<rect x="90" y="18" width="8" height="1"/><rect x="846" y="18" width="8" height="1"/>
</g>
<text x="79.8" y="290.5" text-anchor="end" font-size="20" fill="#262626">0</text>
<text x="79.8" y="237.5" text-anchor="end" font-size="20" fill="#262626">5</text>
<text x="79.8" y="184.5" text-anchor="end" font-size="20" fill="#262626">10</text>
<text x="79.8" y="131.5" text-anchor="end" font-size="20" fill="#262626">15</text>
<text x="79.8" y="78.5" text-anchor="end" font-size="20" fill="#262626">20</text>
<text x="79.8" y="25.5" text-anchor="end" font-size="20" fill="#262626">25</text>
<text transform="translate(42.1,151.6) rotate(-90)" text-anchor="middle" font-size="22.67" font-weight="bold" fill="#262626">Wind Speed, kts</text>
<g shape-rendering="crispEdges">
<rect x="132.5" y="284" width="3.8" height="32.5" fill="#000" shape-rendering="auto"/>
<rect x="180.3" y="284" width="3.8" height="32.5" fill="#000" shape-rendering="auto"/>
<rect x="228.1" y="284" width="3.8" height="32.5" fill="#000" shape-rendering="auto"/>
<rect x="275.9" y="284" width="3.8" height="32.5" fill="#000" shape-rendering="auto"/>
<rect x="323.7" y="284" width="3.8" height="32.5" fill="#000" shape-rendering="auto"/>
<rect x="371.5" y="284" width="3.8" height="32.5" fill="#000" shape-rendering="auto"/>
<rect x="419.3" y="284" width="3.8" height="32.5" fill="#000" shape-rendering="auto"/>
<rect x="467.1" y="284" width="3.8" height="32.5" fill="#000" shape-rendering="auto"/>
<rect x="514.9" y="284" width="3.8" height="32.5" fill="#000" shape-rendering="auto"/>
<rect x="562.7" y="284" width="3.8" height="32.5" fill="#000" shape-rendering="auto"/>
<rect x="610.5" y="284" width="3.8" height="32.5" fill="#000" shape-rendering="auto"/>
<rect x="658.3" y="284" width="3.8" height="32.5" fill="#000" shape-rendering="auto"/>
<rect x="706.1" y="284" width="3.8" height="32.5" fill="#000" shape-rendering="auto"/>
<rect x="753.9" y="284" width="3.8" height="32.5" fill="#000" shape-rendering="auto"/>
<rect x="801.7" y="284" width="3.8" height="32.5" fill="#000" shape-rendering="auto"/>
<rect x="849.5" y="284" width="3.8" height="32.5" fill="#000" shape-rendering="auto"/>
</g>
<text x="109.6" y="296.7" text-anchor="middle" font-size="12.4" fill="#1a1a1a">Fri</text>
<text x="110.2" y="306.6" text-anchor="middle" font-size="12.4" fill="#1a1a1a">26-Sep</text>
<text x="158.4" y="296.7" text-anchor="middle" font-size="12.4" fill="#1a1a1a">Sat</text>
<text x="157.4" y="306.6" text-anchor="middle" font-size="12.4" fill="#1a1a1a">27-Sep</text>
<text x="206.2" y="296.7" text-anchor="middle" font-size="12.4" fill="#1a1a1a">Sun</text>
<text x="205.2" y="306.6" text-anchor="middle" font-size="12.4" fill="#1a1a1a">28-Sep</text>
<text x="254.0" y="296.7" text-anchor="middle" font-size="12.4" fill="#1a1a1a">Mon</text>
<text x="253.0" y="306.6" text-anchor="middle" font-size="12.4" fill="#1a1a1a">29-Sep</text>
<text x="301.8" y="296.7" text-anchor="middle" font-size="12.4" fill="#1a1a1a">Tue</text>
<text x="300.8" y="306.6" text-anchor="middle" font-size="12.4" fill="#1a1a1a">30-Sep</text>
<text x="349.6" y="296.7" text-anchor="middle" font-size="12.4" fill="#1a1a1a">Wed</text>
<text x="348.6" y="306.6" text-anchor="middle" font-size="12.4" fill="#1a1a1a">01-Oct</text>
<text x="397.4" y="296.7" text-anchor="middle" font-size="12.4" fill="#1a1a1a">Thu</text>
<text x="396.4" y="306.6" text-anchor="middle" font-size="12.4" fill="#1a1a1a">02-Oct</text>
<text x="445.2" y="296.7" text-anchor="middle" font-size="12.4" fill="#1a1a1a">Fri</text>
<text x="444.2" y="306.6" text-anchor="middle" font-size="12.4" fill="#1a1a1a">03-Oct</text>
<text x="493.0" y="296.7" text-anchor="middle" font-size="12.4" fill="#1a1a1a">Sat</text>
<text x="492.0" y="306.6" text-anchor="middle" font-size="12.4" fill="#1a1a1a">04-Oct</text>
<text x="540.8" y="296.7" text-anchor="middle" font-size="12.4" fill="#1a1a1a">Sun</text>
<text x="539.8" y="306.6" text-anchor="middle" font-size="12.4" fill="#1a1a1a">05-Oct</text>
<text x="588.6" y="296.7" text-anchor="middle" font-size="12.4" fill="#1a1a1a">Mon</text>
<text x="587.6" y="306.6" text-anchor="middle" font-size="12.4" fill="#1a1a1a">06-Oct</text>
<text x="636.4" y="296.7" text-anchor="middle" font-size="12.4" fill="#1a1a1a">Tue</text>
<text x="635.4" y="306.6" text-anchor="middle" font-size="12.4" fill="#1a1a1a">07-Oct</text>
<text x="684.2" y="296.7" text-anchor="middle" font-size="12.4" fill="#1a1a1a">Wed</text>
<text x="683.2" y="306.6" text-anchor="middle" font-size="12.4" fill="#1a1a1a">08-Oct</text>
<text x="732.0" y="296.7" text-anchor="middle" font-size="12.4" fill="#1a1a1a">Thu</text>
<text x="731.0" y="306.6" text-anchor="middle" font-size="12.4" fill="#1a1a1a">09-Oct</text>
<text x="779.8" y="296.7" text-anchor="middle" font-size="12.4" fill="#1a1a1a">Fri</text>
<text x="778.8" y="306.6" text-anchor="middle" font-size="12.4" fill="#1a1a1a">10-Oct</text>
<text x="827.6" y="296.7" text-anchor="middle" font-size="12.4" fill="#1a1a1a">Sat</text>
<text x="826.6" y="306.6" text-anchor="middle" font-size="12.4" fill="#1a1a1a">11-Oct</text>
<text x="106.3" y="297.2" text-anchor="middle" font-size="14" letter-spacing="0.35" fill="#f00">now</text>
<g shape-rendering="crispEdges">
<path d="M89 473H94V582H89ZM95 477H100V582H95ZM101 477H106V582H101ZM107 475H112V582H107ZM113 483H118V582H113ZM119 486H124V582H119ZM125 484H130V582H125ZM130 479H136V582H130ZM136 474H142V582H136ZM142 472H148V582H142ZM148 474H154V582H148ZM154 471H160V582H154ZM160 472H166V582H160ZM166 467H172V582H166ZM172 459H178V582H172ZM178 440H184V582H178ZM184 445H190V582H184ZM190 444H196V582H190ZM196 427H202V582H196ZM202 422H208V582H202ZM208 406H214V582H208ZM214 397H220V582H214ZM220 395H226V582H220ZM226 387H232V582H226ZM232 385H238V582H232ZM238 380H244V582H238ZM244 379H250V582H244ZM250 383H256V582H250ZM256 395H262V582H256ZM262 403H268V582H262ZM268 405H274V582H268ZM274 405H280V582H274ZM280 392H286V582H280ZM286 402H292V582H286ZM292 409H298V582H292ZM298 414H304V582H298ZM304 413H310V582H304ZM310 420H315V582H310ZM316 427H321V582H316ZM322 430H327V582H322ZM328 420H333V582H328ZM334 410H339V582H334ZM340 411H345V582H340ZM346 417H351V582H346ZM352 423H357V582H352ZM357 426H363V582H357ZM363 430H369V582H363ZM369 428H375V582H369ZM375 425H381V582H375ZM381 421H387V582H381ZM387 425H393V582H387ZM393 435H399V582H393ZM399 442H405V582H399ZM405 447H411V582H405ZM411 448H417V582H411ZM417 440H423V582H417ZM423 451H429V582H423ZM429 459H435V582H429ZM435 462H441V582H435ZM441 464H447V582H441ZM447 470H453V582H447ZM453 475H459V582H453ZM459 483H465V582H459ZM465 493H471V582H465ZM471 495H477V582H471ZM477 496H483V582H477ZM483 493H489V582H483ZM489 493H495V582H489ZM495 491H501V582H495ZM501 487H507V582H501ZM507 483H513V582H507ZM513 485H519V582H513ZM519 485H525V582H519ZM525 480H531V582H525ZM531 474H536V582H531ZM537 473H542V582H537ZM543 474H548V582H543ZM549 473H554V582H549ZM555 466H560V582H555ZM561 457H566V582H561ZM567 457H572V582H567ZM573 444H578V582H573ZM578 436H584V582H578ZM584 439H590V582H584ZM590 438H596V582H590ZM596 443H602V582H596ZM602 439H608V582H602ZM608 439H614V582H608ZM614 444H620V582H614ZM620 439H626V582H620ZM626 443H632V582H626ZM632 444H638V582H632ZM638 446H644V582H638ZM644 449H650V582H644ZM650 448H656V582H650ZM656 452H662V582H656ZM662 446H668V582H662ZM668 442H674V582H668ZM674 435H680V582H674ZM680 441H686V582H680ZM686 446H692V582H686ZM692 446H698V582H692ZM698 438H704V582H698ZM704 454H710V582H704ZM710 455H716V582H710ZM716 445H722V582H716ZM722 436H728V582H722ZM728 445H734V582H728ZM734 449H740V582H734ZM740 441H746V582H740ZM746 435H752V582H746ZM752 429H758V582H752ZM758 417H763V582H758ZM764 416H769V582H764ZM770 418H775V582H770ZM776 421H781V582H776ZM782 433H787V582H782ZM788 431H793V582H788ZM794 433H799V582H794ZM800 441H805V582H800ZM805 434H811V582H805ZM811 432H817V582H811ZM817 439H823V582H817ZM823 445H829V582H823ZM829 449H835V582H829ZM835 456H841V582H835ZM841 462H847V582H841ZM847 460H853V582H847ZM853 456H855V582H853Z" fill="#000"/>
<path d="M90 474H93V582H90ZM96 478H99V582H96ZM102 478H105V582H102ZM108 476H111V582H108ZM114 484H117V582H114ZM120 487H123V582H120ZM126 485H129V582H126ZM131 480H135V582H131ZM137 475H141V582H137ZM143 473H147V582H143ZM149 475H153V582H149ZM155 472H159V582H155ZM161 473H165V582H161ZM167 468H171V582H167ZM173 460H177V582H173ZM179 441H183V582H179ZM185 446H189V582H185ZM191 445H195V582H191ZM197 428H201V582H197ZM203 423H207V582H203ZM209 407H213V582H209ZM215 398H219V582H215ZM221 396H225V582H221ZM227 388H231V582H227ZM233 386H237V582H233ZM239 381H243V582H239ZM245 380H249V582H245ZM251 384H255V582H251ZM257 396H261V582H257ZM263 404H267V582H263ZM269 406H273V582H269ZM275 406H279V582H275ZM281 393H285V582H281ZM287 403H291V582H287ZM293 410H297V582H293ZM299 415H303V582H299ZM305 414H309V582H305ZM311 421H314V582H311ZM317 428H320V582H317ZM323 431H326V582H323ZM329 421H332V582H329ZM335 411H338V582H335ZM341 412H344V582H341ZM347 418H350V582H347ZM353 424H356V582H353ZM358 427H362V582H358ZM364 431H368V582H364ZM370 429H374V582H370ZM376 426H380V582H376ZM382 422H386V582H382ZM388 426H392V582H388ZM394 436H398V582H394ZM400 443H404V582H400ZM406 448H410V582H406ZM412 449H416V582H412ZM418 441H422V582H418ZM424 452H428V582H424ZM430 460H434V582H430ZM436 463H440V582H436ZM442 465H446V582H442ZM448 471H452V582H448ZM454 476H458V582H454ZM460 484H464V582H460ZM466 494H470V582H466ZM472 496H476V582H472ZM478 497H482V582H478ZM484 494H488V582H484ZM490 494H494V582H490ZM496 492H500V582H496ZM502 488H506V582H502ZM508 484H512V582H508ZM514 486H518V582H514ZM520 486H524V582H520ZM526 481H530V582H526ZM532 475H535V582H532ZM538 474H541V582H538ZM544 475H547V582H544ZM550 474H553V582H550ZM556 467H559V582H556ZM562 458H565V582H562ZM568 458H571V582H568ZM574 445H577V582H574ZM579 437H583V582H579ZM585 440H589V582H585ZM591 439H595V582H591ZM597 444H601V582H597ZM603 440H607V582H603ZM609 440H613V582H609ZM615 445H619V582H615ZM621 440H625V582H621ZM627 444H631V582H627ZM633 445H637V582H633ZM639 447H643V582H639ZM645 450H649V582H645ZM651 449H655V582H651ZM657 453H661V582H657ZM663 447H667V582H663ZM669 443H673V582H669ZM675 436H679V582H675ZM681 442H685V582H681ZM687 447H691V582H687ZM693 447H697V582H693ZM699 439H703V582H699ZM705 455H709V582H705ZM711 456H715V582H711ZM717 446H721V582H717ZM723 437H727V582H723ZM729 446H733V582H729ZM735 450H739V582H735ZM741 442H745V582H741ZM747 436H751V582H747ZM753 430H757V582H753ZM759 418H762V582H759ZM765 417H768V582H765ZM771 419H774V582H771ZM777 422H780V582H777ZM783 434H786V582H783ZM789 432H792V582H789ZM795 434H798V582H795ZM801 442H804V582H801ZM806 435H810V582H806ZM812 433H816V582H812ZM818 440H822V582H818ZM824 446H828V582H824ZM830 450H834V582H830ZM836 457H840V582H836ZM842 463H846V582H842ZM848 461H852V582H848Z" fill="#0072BD"/>
<rect x="104.45" y="316" width="4.45" height="266" fill="#f00" shape-rendering="auto"/>
</g>
<path d="M133.10 578.90h2.3v2h-2.3zM133.10 570.57h2.3v2h-2.3zM133.10 562.23h2.3v2h-2.3zM133.10 553.90h2.3v2h-2.3zM133.10 545.57h2.3v2h-2.3zM133.10 537.23h2.3v2h-2.3zM133.10 528.90h2.3v2h-2.3zM133.10 520.57h2.3v2h-2.3zM133.10 512.23h2.3v2h-2.3zM133.10 503.90h2.3v2h-2.3zM133.10 495.57h2.3v2h-2.3zM133.10 487.23h2.3v2h-2.3zM133.10 478.90h2.3v2h-2.3zM133.10 470.57h2.3v2h-2.3zM133.10 462.23h2.3v2h-2.3zM133.10 453.90h2.3v2h-2.3zM133.10 445.57h2.3v2h-2.3zM133.10 437.23h2.3v2h-2.3zM133.10 428.90h2.3v2h-2.3zM133.10 420.57h2.3v2h-2.3zM133.10 412.23h2.3v2h-2.3zM133.10 403.90h2.3v2h-2.3zM133.10 395.57h2.3v2h-2.3zM133.10 387.23h2.3v2h-2.3zM133.10 378.90h2.3v2h-2.3zM133.10 370.57h2.3v2h-2.3zM133.10 362.23h2.3v2h-2.3zM133.10 353.90h2.3v2h-2.3zM133.10 345.57h2.3v2h-2.3zM133.10 337.23h2.3v2h-2.3zM133.10 328.90h2.3v2h-2.3zM133.10 320.57h2.3v2h-2.3z" fill="#000"/>
<path d="M180.90 578.90h2.3v2h-2.3zM180.90 570.57h2.3v2h-2.3zM180.90 562.23h2.3v2h-2.3zM180.90 553.90h2.3v2h-2.3zM180.90 545.57h2.3v2h-2.3zM180.90 537.23h2.3v2h-2.3zM180.90 528.90h2.3v2h-2.3zM180.90 520.57h2.3v2h-2.3zM180.90 512.23h2.3v2h-2.3zM180.90 503.90h2.3v2h-2.3zM180.90 495.57h2.3v2h-2.3zM180.90 487.23h2.3v2h-2.3zM180.90 478.90h2.3v2h-2.3zM180.90 470.57h2.3v2h-2.3zM180.90 462.23h2.3v2h-2.3zM180.90 453.90h2.3v2h-2.3zM180.90 445.57h2.3v2h-2.3zM180.90 437.23h2.3v2h-2.3zM180.90 428.90h2.3v2h-2.3zM180.90 420.57h2.3v2h-2.3zM180.90 412.23h2.3v2h-2.3zM180.90 403.90h2.3v2h-2.3zM180.90 395.57h2.3v2h-2.3zM180.90 387.23h2.3v2h-2.3zM180.90 378.90h2.3v2h-2.3zM180.90 370.57h2.3v2h-2.3zM180.90 362.23h2.3v2h-2.3zM180.90 353.90h2.3v2h-2.3zM180.90 345.57h2.3v2h-2.3zM180.90 337.23h2.3v2h-2.3zM180.90 328.90h2.3v2h-2.3zM180.90 320.57h2.3v2h-2.3z" fill="#000"/>
<path d="M228.70 578.90h2.3v2h-2.3zM228.70 570.57h2.3v2h-2.3zM228.70 562.23h2.3v2h-2.3zM228.70 553.90h2.3v2h-2.3zM228.70 545.57h2.3v2h-2.3zM228.70 537.23h2.3v2h-2.3zM228.70 528.90h2.3v2h-2.3zM228.70 520.57h2.3v2h-2.3zM228.70 512.23h2.3v2h-2.3zM228.70 503.90h2.3v2h-2.3zM228.70 495.57h2.3v2h-2.3zM228.70 487.23h2.3v2h-2.3zM228.70 478.90h2.3v2h-2.3zM228.70 470.57h2.3v2h-2.3zM228.70 462.23h2.3v2h-2.3zM228.70 453.90h2.3v2h-2.3zM228.70 445.57h2.3v2h-2.3zM228.70 437.23h2.3v2h-2.3zM228.70 428.90h2.3v2h-2.3zM228.70 420.57h2.3v2h-2.3zM228.70 412.23h2.3v2h-2.3zM228.70 403.90h2.3v2h-2.3zM228.70 395.57h2.3v2h-2.3zM228.70 387.23h2.3v2h-2.3zM228.70 378.90h2.3v2h-2.3zM228.70 370.57h2.3v2h-2.3zM228.70 362.23h2.3v2h-2.3zM228.70 353.90h2.3v2h-2.3zM228.70 345.57h2.3v2h-2.3zM228.70 337.23h2.3v2h-2.3zM228.70 328.90h2.3v2h-2.3zM228.70 320.57h2.3v2h-2.3z" fill="#000"/>
<path d="M276.50 578.90h2.3v2h-2.3zM276.50 570.57h2.3v2h-2.3zM276.50 562.23h2.3v2h-2.3zM276.50 553.90h2.3v2h-2.3zM276.50 545.57h2.3v2h-2.3zM276.50 537.23h2.3v2h-2.3zM276.50 528.90h2.3v2h-2.3zM276.50 520.57h2.3v2h-2.3zM276.50 512.23h2.3v2h-2.3zM276.50 503.90h2.3v2h-2.3zM276.50 495.57h2.3v2h-2.3zM276.50 487.23h2.3v2h-2.3zM276.50 478.90h2.3v2h-2.3zM276.50 470.57h2.3v2h-2.3zM276.50 462.23h2.3v2h-2.3zM276.50 453.90h2.3v2h-2.3zM276.50 445.57h2.3v2h-2.3zM276.50 437.23h2.3v2h-2.3zM276.50 428.90h2.3v2h-2.3zM276.50 420.57h2.3v2h-2.3zM276.50 412.23h2.3v2h-2.3zM276.50 403.90h2.3v2h-2.3zM276.50 395.57h2.3v2h-2.3zM276.50 387.23h2.3v2h-2.3zM276.50 378.90h2.3v2h-2.3zM276.50 370.57h2.3v2h-2.3zM276.50 362.23h2.3v2h-2.3zM276.50 353.90h2.3v2h-2.3zM276.50 345.57h2.3v2h-2.3zM276.50 337.23h2.3v2h-2.3zM276.50 328.90h2.3v2h-2.3zM276.50 320.57h2.3v2h-2.3z" fill="#000"/>
<path d="M324.30 578.90h2.3v2h-2.3zM324.30 570.57h2.3v2h-2.3zM324.30 562.23h2.3v2h-2.3zM324.30 553.90h2.3v2h-2.3zM324.30 545.57h2.3v2h-2.3zM324.30 537.23h2.3v2h-2.3zM324.30 528.90h2.3v2h-2.3zM324.30 520.57h2.3v2h-2.3zM324.30 512.23h2.3v2h-2.3zM324.30 503.90h2.3v2h-2.3zM324.30 495.57h2.3v2h-2.3zM324.30 487.23h2.3v2h-2.3zM324.30 478.90h2.3v2h-2.3zM324.30 470.57h2.3v2h-2.3zM324.30 462.23h2.3v2h-2.3zM324.30 453.90h2.3v2h-2.3zM324.30 445.57h2.3v2h-2.3zM324.30 437.23h2.3v2h-2.3zM324.30 428.90h2.3v2h-2.3zM324.30 420.57h2.3v2h-2.3zM324.30 412.23h2.3v2h-2.3zM324.30 403.90h2.3v2h-2.3zM324.30 395.57h2.3v2h-2.3zM324.30 387.23h2.3v2h-2.3zM324.30 378.90h2.3v2h-2.3zM324.30 370.57h2.3v2h-2.3zM324.30 362.23h2.3v2h-2.3zM324.30 353.90h2.3v2h-2.3zM324.30 345.57h2.3v2h-2.3zM324.30 337.23h2.3v2h-2.3zM324.30 328.90h2.3v2h-2.3zM324.30 320.57h2.3v2h-2.3z" fill="#000"/>
<path d="M372.10 578.90h2.3v2h-2.3zM372.10 570.57h2.3v2h-2.3zM372.10 562.23h2.3v2h-2.3zM372.10 553.90h2.3v2h-2.3zM372.10 545.57h2.3v2h-2.3zM372.10 537.23h2.3v2h-2.3zM372.10 528.90h2.3v2h-2.3zM372.10 520.57h2.3v2h-2.3zM372.10 512.23h2.3v2h-2.3zM372.10 503.90h2.3v2h-2.3zM372.10 495.57h2.3v2h-2.3zM372.10 487.23h2.3v2h-2.3zM372.10 478.90h2.3v2h-2.3zM372.10 470.57h2.3v2h-2.3zM372.10 462.23h2.3v2h-2.3zM372.10 453.90h2.3v2h-2.3zM372.10 445.57h2.3v2h-2.3zM372.10 437.23h2.3v2h-2.3zM372.10 428.90h2.3v2h-2.3zM372.10 420.57h2.3v2h-2.3zM372.10 412.23h2.3v2h-2.3zM372.10 403.90h2.3v2h-2.3zM372.10 395.57h2.3v2h-2.3zM372.10 387.23h2.3v2h-2.3zM372.10 378.90h2.3v2h-2.3zM372.10 370.57h2.3v2h-2.3zM372.10 362.23h2.3v2h-2.3zM372.10 353.90h2.3v2h-2.3zM372.10 345.57h2.3v2h-2.3zM372.10 337.23h2.3v2h-2.3zM372.10 328.90h2.3v2h-2.3zM372.10 320.57h2.3v2h-2.3z" fill="#000"/>
<path d="M419.90 578.90h2.3v2h-2.3zM419.90 570.57h2.3v2h-2.3zM419.90 562.23h2.3v2h-2.3zM419.90 553.90h2.3v2h-2.3zM419.90 545.57h2.3v2h-2.3zM419.90 537.23h2.3v2h-2.3zM419.90 528.90h2.3v2h-2.3zM419.90 520.57h2.3v2h-2.3zM419.90 512.23h2.3v2h-2.3zM419.90 503.90h2.3v2h-2.3zM419.90 495.57h2.3v2h-2.3zM419.90 487.23h2.3v2h-2.3zM419.90 478.90h2.3v2h-2.3zM419.90 470.57h2.3v2h-2.3zM419.90 462.23h2.3v2h-2.3zM419.90 453.90h2.3v2h-2.3zM419.90 445.57h2.3v2h-2.3zM419.90 437.23h2.3v2h-2.3zM419.90 428.90h2.3v2h-2.3zM419.90 420.57h2.3v2h-2.3zM419.90 412.23h2.3v2h-2.3zM419.90 403.90h2.3v2h-2.3zM419.90 395.57h2.3v2h-2.3zM419.90 387.23h2.3v2h-2.3zM419.90 378.90h2.3v2h-2.3zM419.90 370.57h2.3v2h-2.3zM419.90 362.23h2.3v2h-2.3zM419.90 353.90h2.3v2h-2.3zM419.90 345.57h2.3v2h-2.3zM419.90 337.23h2.3v2h-2.3zM419.90 328.90h2.3v2h-2.3zM419.90 320.57h2.3v2h-2.3z" fill="#000"/>
<path d="M467.70 578.90h2.3v2h-2.3zM467.70 570.57h2.3v2h-2.3zM467.70 562.23h2.3v2h-2.3zM467.70 553.90h2.3v2h-2.3zM467.70 545.57h2.3v2h-2.3zM467.70 537.23h2.3v2h-2.3zM467.70 528.90h2.3v2h-2.3zM467.70 520.57h2.3v2h-2.3zM467.70 512.23h2.3v2h-2.3zM467.70 503.90h2.3v2h-2.3zM467.70 495.57h2.3v2h-2.3zM467.70 487.23h2.3v2h-2.3zM467.70 478.90h2.3v2h-2.3zM467.70 470.57h2.3v2h-2.3zM467.70 462.23h2.3v2h-2.3zM467.70 453.90h2.3v2h-2.3zM467.70 445.57h2.3v2h-2.3zM467.70 437.23h2.3v2h-2.3zM467.70 428.90h2.3v2h-2.3zM467.70 420.57h2.3v2h-2.3zM467.70 412.23h2.3v2h-2.3zM467.70 403.90h2.3v2h-2.3zM467.70 395.57h2.3v2h-2.3zM467.70 387.23h2.3v2h-2.3zM467.70 378.90h2.3v2h-2.3zM467.70 370.57h2.3v2h-2.3zM467.70 362.23h2.3v2h-2.3zM467.70 353.90h2.3v2h-2.3zM467.70 345.57h2.3v2h-2.3zM467.70 337.23h2.3v2h-2.3zM467.70 328.90h2.3v2h-2.3zM467.70 320.57h2.3v2h-2.3z" fill="#000"/>
<path d="M515.50 578.90h2.3v2h-2.3zM515.50 570.57h2.3v2h-2.3zM515.50 562.23h2.3v2h-2.3zM515.50 553.90h2.3v2h-2.3zM515.50 545.57h2.3v2h-2.3zM515.50 537.23h2.3v2h-2.3zM515.50 528.90h2.3v2h-2.3zM515.50 520.57h2.3v2h-2.3zM515.50 512.23h2.3v2h-2.3zM515.50 503.90h2.3v2h-2.3zM515.50 495.57h2.3v2h-2.3zM515.50 487.23h2.3v2h-2.3zM515.50 478.90h2.3v2h-2.3zM515.50 470.57h2.3v2h-2.3zM515.50 462.23h2.3v2h-2.3zM515.50 453.90h2.3v2h-2.3zM515.50 445.57h2.3v2h-2.3zM515.50 437.23h2.3v2h-2.3zM515.50 428.90h2.3v2h-2.3zM515.50 420.57h2.3v2h-2.3zM515.50 412.23h2.3v2h-2.3zM515.50 403.90h2.3v2h-2.3zM515.50 395.57h2.3v2h-2.3zM515.50 387.23h2.3v2h-2.3zM515.50 378.90h2.3v2h-2.3zM515.50 370.57h2.3v2h-2.3zM515.50 362.23h2.3v2h-2.3zM515.50 353.90h2.3v2h-2.3zM515.50 345.57h2.3v2h-2.3zM515.50 337.23h2.3v2h-2.3zM515.50 328.90h2.3v2h-2.3zM515.50 320.57h2.3v2h-2.3z" fill="#000"/>
<path d="M563.30 578.90h2.3v2h-2.3zM563.30 570.57h2.3v2h-2.3zM563.30 562.23h2.3v2h-2.3zM563.30 553.90h2.3v2h-2.3zM563.30 545.57h2.3v2h-2.3zM563.30 537.23h2.3v2h-2.3zM563.30 528.90h2.3v2h-2.3zM563.30 520.57h2.3v2h-2.3zM563.30 512.23h2.3v2h-2.3zM563.30 503.90h2.3v2h-2.3zM563.30 495.57h2.3v2h-2.3zM563.30 487.23h2.3v2h-2.3zM563.30 478.90h2.3v2h-2.3zM563.30 470.57h2.3v2h-2.3zM563.30 462.23h2.3v2h-2.3zM563.30 453.90h2.3v2h-2.3zM563.30 445.57h2.3v2h-2.3zM563.30 437.23h2.3v2h-2.3zM563.30 428.90h2.3v2h-2.3zM563.30 420.57h2.3v2h-2.3zM563.30 412.23h2.3v2h-2.3zM563.30 403.90h2.3v2h-2.3zM563.30 395.57h2.3v2h-2.3zM563.30 387.23h2.3v2h-2.3zM563.30 378.90h2.3v2h-2.3zM563.30 370.57h2.3v2h-2.3zM563.30 362.23h2.3v2h-2.3zM563.30 353.90h2.3v2h-2.3zM563.30 345.57h2.3v2h-2.3zM563.30 337.23h2.3v2h-2.3zM563.30 328.90h2.3v2h-2.3zM563.30 320.57h2.3v2h-2.3z" fill="#000"/>
<path d="M611.10 578.90h2.3v2h-2.3zM611.10 570.57h2.3v2h-2.3zM611.10 562.23h2.3v2h-2.3zM611.10 553.90h2.3v2h-2.3zM611.10 545.57h2.3v2h-2.3zM611.10 537.23h2.3v2h-2.3zM611.10 528.90h2.3v2h-2.3zM611.10 520.57h2.3v2h-2.3zM611.10 512.23h2.3v2h-2.3zM611.10 503.90h2.3v2h-2.3zM611.10 495.57h2.3v2h-2.3zM611.10 487.23h2.3v2h-2.3zM611.10 478.90h2.3v2h-2.3zM611.10 470.57h2.3v2h-2.3zM611.10 462.23h2.3v2h-2.3zM611.10 453.90h2.3v2h-2.3zM611.10 445.57h2.3v2h-2.3zM611.10 437.23h2.3v2h-2.3zM611.10 428.90h2.3v2h-2.3zM611.10 420.57h2.3v2h-2.3zM611.10 412.23h2.3v2h-2.3zM611.10 403.90h2.3v2h-2.3zM611.10 395.57h2.3v2h-2.3zM611.10 387.23h2.3v2h-2.3zM611.10 378.90h2.3v2h-2.3zM611.10 370.57h2.3v2h-2.3zM611.10 362.23h2.3v2h-2.3zM611.10 353.90h2.3v2h-2.3zM611.10 345.57h2.3v2h-2.3zM611.10 337.23h2.3v2h-2.3zM611.10 328.90h2.3v2h-2.3zM611.10 320.57h2.3v2h-2.3z" fill="#000"/>
<path d="M658.90 578.90h2.3v2h-2.3zM658.90 570.57h2.3v2h-2.3zM658.90 562.23h2.3v2h-2.3zM658.90 553.90h2.3v2h-2.3zM658.90 545.57h2.3v2h-2.3zM658.90 537.23h2.3v2h-2.3zM658.90 528.90h2.3v2h-2.3zM658.90 520.57h2.3v2h-2.3zM658.90 512.23h2.3v2h-2.3zM658.90 503.90h2.3v2h-2.3zM658.90 495.57h2.3v2h-2.3zM658.90 487.23h2.3v2h-2.3zM658.90 478.90h2.3v2h-2.3zM658.90 470.57h2.3v2h-2.3zM658.90 462.23h2.3v2h-2.3zM658.90 453.90h2.3v2h-2.3zM658.90 445.57h2.3v2h-2.3zM658.90 437.23h2.3v2h-2.3zM658.90 428.90h2.3v2h-2.3zM658.90 420.57h2.3v2h-2.3zM658.90 412.23h2.3v2h-2.3zM658.90 403.90h2.3v2h-2.3zM658.90 395.57h2.3v2h-2.3zM658.90 387.23h2.3v2h-2.3zM658.90 378.90h2.3v2h-2.3zM658.90 370.57h2.3v2h-2.3zM658.90 362.23h2.3v2h-2.3zM658.90 353.90h2.3v2h-2.3zM658.90 345.57h2.3v2h-2.3zM658.90 337.23h2.3v2h-2.3zM658.90 328.90h2.3v2h-2.3zM658.90 320.57h2.3v2h-2.3z" fill="#000"/>
<path d="M706.70 578.90h2.3v2h-2.3zM706.70 570.57h2.3v2h-2.3zM706.70 562.23h2.3v2h-2.3zM706.70 553.90h2.3v2h-2.3zM706.70 545.57h2.3v2h-2.3zM706.70 537.23h2.3v2h-2.3zM706.70 528.90h2.3v2h-2.3zM706.70 520.57h2.3v2h-2.3zM706.70 512.23h2.3v2h-2.3zM706.70 503.90h2.3v2h-2.3zM706.70 495.57h2.3v2h-2.3zM706.70 487.23h2.3v2h-2.3zM706.70 478.90h2.3v2h-2.3zM706.70 470.57h2.3v2h-2.3zM706.70 462.23h2.3v2h-2.3zM706.70 453.90h2.3v2h-2.3zM706.70 445.57h2.3v2h-2.3zM706.70 437.23h2.3v2h-2.3zM706.70 428.90h2.3v2h-2.3zM706.70 420.57h2.3v2h-2.3zM706.70 412.23h2.3v2h-2.3zM706.70 403.90h2.3v2h-2.3zM706.70 395.57h2.3v2h-2.3zM706.70 387.23h2.3v2h-2.3zM706.70 378.90h2.3v2h-2.3zM706.70 370.57h2.3v2h-2.3zM706.70 362.23h2.3v2h-2.3zM706.70 353.90h2.3v2h-2.3zM706.70 345.57h2.3v2h-2.3zM706.70 337.23h2.3v2h-2.3zM706.70 328.90h2.3v2h-2.3zM706.70 320.57h2.3v2h-2.3z" fill="#000"/>
<path d="M754.50 578.90h2.3v2h-2.3zM754.50 570.57h2.3v2h-2.3zM754.50 562.23h2.3v2h-2.3zM754.50 553.90h2.3v2h-2.3zM754.50 545.57h2.3v2h-2.3zM754.50 537.23h2.3v2h-2.3zM754.50 528.90h2.3v2h-2.3zM754.50 520.57h2.3v2h-2.3zM754.50 512.23h2.3v2h-2.3zM754.50 503.90h2.3v2h-2.3zM754.50 495.57h2.3v2h-2.3zM754.50 487.23h2.3v2h-2.3zM754.50 478.90h2.3v2h-2.3zM754.50 470.57h2.3v2h-2.3zM754.50 462.23h2.3v2h-2.3zM754.50 453.90h2.3v2h-2.3zM754.50 445.57h2.3v2h-2.3zM754.50 437.23h2.3v2h-2.3zM754.50 428.90h2.3v2h-2.3zM754.50 420.57h2.3v2h-2.3zM754.50 412.23h2.3v2h-2.3zM754.50 403.90h2.3v2h-2.3zM754.50 395.57h2.3v2h-2.3zM754.50 387.23h2.3v2h-2.3zM754.50 378.90h2.3v2h-2.3zM754.50 370.57h2.3v2h-2.3zM754.50 362.23h2.3v2h-2.3zM754.50 353.90h2.3v2h-2.3zM754.50 345.57h2.3v2h-2.3zM754.50 337.23h2.3v2h-2.3zM754.50 328.90h2.3v2h-2.3zM754.50 320.57h2.3v2h-2.3z" fill="#000"/>
<path d="M802.30 578.90h2.3v2h-2.3zM802.30 570.57h2.3v2h-2.3zM802.30 562.23h2.3v2h-2.3zM802.30 553.90h2.3v2h-2.3zM802.30 545.57h2.3v2h-2.3zM802.30 537.23h2.3v2h-2.3zM802.30 528.90h2.3v2h-2.3zM802.30 520.57h2.3v2h-2.3zM802.30 512.23h2.3v2h-2.3zM802.30 503.90h2.3v2h-2.3zM802.30 495.57h2.3v2h-2.3zM802.30 487.23h2.3v2h-2.3zM802.30 478.90h2.3v2h-2.3zM802.30 470.57h2.3v2h-2.3zM802.30 462.23h2.3v2h-2.3zM802.30 453.90h2.3v2h-2.3zM802.30 445.57h2.3v2h-2.3zM802.30 437.23h2.3v2h-2.3zM802.30 428.90h2.3v2h-2.3zM802.30 420.57h2.3v2h-2.3zM802.30 412.23h2.3v2h-2.3zM802.30 403.90h2.3v2h-2.3zM802.30 395.57h2.3v2h-2.3zM802.30 387.23h2.3v2h-2.3zM802.30 378.90h2.3v2h-2.3zM802.30 370.57h2.3v2h-2.3zM802.30 362.23h2.3v2h-2.3zM802.30 353.90h2.3v2h-2.3zM802.30 345.57h2.3v2h-2.3zM802.30 337.23h2.3v2h-2.3zM802.30 328.90h2.3v2h-2.3zM802.30 320.57h2.3v2h-2.3z" fill="#000"/>
<path d="M850.10 578.90h2.3v2h-2.3zM850.10 570.57h2.3v2h-2.3zM850.10 562.23h2.3v2h-2.3zM850.10 553.90h2.3v2h-2.3zM850.10 545.57h2.3v2h-2.3zM850.10 537.23h2.3v2h-2.3zM850.10 528.90h2.3v2h-2.3zM850.10 520.57h2.3v2h-2.3zM850.10 512.23h2.3v2h-2.3zM850.10 503.90h2.3v2h-2.3zM850.10 495.57h2.3v2h-2.3zM850.10 487.23h2.3v2h-2.3zM850.10 478.90h2.3v2h-2.3zM850.10 470.57h2.3v2h-2.3zM850.10 462.23h2.3v2h-2.3zM850.10 453.90h2.3v2h-2.3zM850.10 445.57h2.3v2h-2.3zM850.10 437.23h2.3v2h-2.3zM850.10 428.90h2.3v2h-2.3zM850.10 420.57h2.3v2h-2.3zM850.10 412.23h2.3v2h-2.3zM850.10 403.90h2.3v2h-2.3zM850.10 395.57h2.3v2h-2.3zM850.10 387.23h2.3v2h-2.3zM850.10 378.90h2.3v2h-2.3zM850.10 370.57h2.3v2h-2.3zM850.10 362.23h2.3v2h-2.3zM850.10 353.90h2.3v2h-2.3zM850.10 345.57h2.3v2h-2.3zM850.10 337.23h2.3v2h-2.3zM850.10 328.90h2.3v2h-2.3zM850.10 320.57h2.3v2h-2.3z" fill="#000"/>
<path d="M108.8 318.1L108.2 326.5" stroke="#000" stroke-width="1" fill="none"/><path d="M107.8 333.2L104.3 322.2L108.2 326.5L112.7 322.8Z" fill="#000" stroke="#000" stroke-width="0.7" stroke-linejoin="miter"/>
<path d="M133.6 318.0L131.8 326.7" stroke="#000" stroke-width="1" fill="none"/><path d="M130.4 333.4L128.5 322.0L131.8 326.7L136.7 323.7Z" fill="#000" stroke="#000" stroke-width="0.7" stroke-linejoin="miter"/>
<path d="M156.7 318.5L155.7 326.2" stroke="#000" stroke-width="1" fill="none"/><path d="M154.7 332.9L152.1 321.6L155.7 326.2L160.4 322.8Z" fill="#000" stroke="#000" stroke-width="0.7" stroke-linejoin="miter"/>
<path d="M181.0 318.1L179.3 326.6" stroke="#000" stroke-width="1" fill="none"/><path d="M177.9 333.2L176.0 321.8L179.3 326.6L184.2 323.5Z" fill="#000" stroke="#000" stroke-width="0.7" stroke-linejoin="miter"/>
<path d="M193.2 323.0L206.6 326.6" stroke="#000" stroke-width="1" fill="none"/><path d="M213.2 328.4L201.7 329.6L206.6 326.6L203.8 321.5Z" fill="#000" stroke="#000" stroke-width="0.7" stroke-linejoin="miter"/>
<path d="M217.8 322.7L229.5 326.6" stroke="#000" stroke-width="1" fill="none"/><path d="M236.0 328.7L224.4 329.3L229.5 326.6L227.1 321.3Z" fill="#000" stroke="#000" stroke-width="0.7" stroke-linejoin="miter"/>
<path d="M240.9 322.7L253.8 326.7" stroke="#000" stroke-width="1" fill="none"/><path d="M260.3 328.7L248.8 329.5L253.8 326.7L251.2 321.5Z" fill="#000" stroke="#000" stroke-width="0.7" stroke-linejoin="miter"/>
<path d="M265.2 322.4L277.0 326.7" stroke="#000" stroke-width="1" fill="none"/><path d="M283.4 329.0L271.9 329.3L277.0 326.7L274.7 321.4Z" fill="#000" stroke="#000" stroke-width="0.7" stroke-linejoin="miter"/>
<path d="M289.2 322.1L300.7 326.8" stroke="#000" stroke-width="1" fill="none"/><path d="M307.0 329.3L295.4 329.1L300.7 326.8L298.6 321.4Z" fill="#000" stroke="#000" stroke-width="0.7" stroke-linejoin="miter"/>
<path d="M313.2 321.4L324.2 326.9" stroke="#000" stroke-width="1" fill="none"/><path d="M330.3 329.9L318.8 328.9L324.2 326.9L322.5 321.4Z" fill="#000" stroke="#000" stroke-width="0.7" stroke-linejoin="miter"/>
<path d="M337.5 321.2L347.6 326.8" stroke="#000" stroke-width="1" fill="none"/><path d="M353.5 330.1L342.0 328.6L347.6 326.8L346.1 321.2Z" fill="#000" stroke="#000" stroke-width="0.7" stroke-linejoin="miter"/>
<path d="M368.9 317.9L369.3 326.7" stroke="#000" stroke-width="1" fill="none"/><path d="M369.6 333.5L364.9 322.9L369.3 326.7L373.3 322.5Z" fill="#000" stroke="#000" stroke-width="0.7" stroke-linejoin="miter"/>
<path d="M394.6 318.3L392.8 326.5" stroke="#000" stroke-width="1" fill="none"/><path d="M391.3 333.1L389.5 321.6L392.8 326.5L397.7 323.5Z" fill="#000" stroke="#000" stroke-width="0.7" stroke-linejoin="miter"/>
<path d="M416.1 317.9L416.7 326.7" stroke="#000" stroke-width="1" fill="none"/><path d="M417.2 333.5L412.3 323.0L416.7 326.7L420.6 322.4Z" fill="#000" stroke="#000" stroke-width="0.7" stroke-linejoin="miter"/>
<path d="M440.2 318.3L440.4 326.3" stroke="#000" stroke-width="1" fill="none"/><path d="M440.6 333.1L436.1 322.4L440.4 326.3L444.5 322.2Z" fill="#000" stroke="#000" stroke-width="0.7" stroke-linejoin="miter"/>
<path d="M463.8 317.9L464.1 326.7" stroke="#000" stroke-width="1" fill="none"/><path d="M464.4 333.5L459.8 322.9L464.1 326.7L468.2 322.5Z" fill="#000" stroke="#000" stroke-width="0.7" stroke-linejoin="miter"/>
<path d="M477.5 328.5L491.6 324.7" stroke="#000" stroke-width="1" fill="none"/><path d="M498.2 322.9L488.8 329.8L491.6 324.7L486.6 321.7Z" fill="#000" stroke="#000" stroke-width="0.7" stroke-linejoin="miter"/>
<path d="M501.3 323.5L515.1 326.5" stroke="#000" stroke-width="1" fill="none"/><path d="M521.8 327.9L510.3 329.7L515.1 326.5L512.1 321.5Z" fill="#000" stroke="#000" stroke-width="0.7" stroke-linejoin="miter"/>
<path d="M525.5 322.7L538.6 326.7" stroke="#000" stroke-width="1" fill="none"/><path d="M545.1 328.7L533.5 329.6L538.6 326.7L536.0 321.5Z" fill="#000" stroke="#000" stroke-width="0.7" stroke-linejoin="miter"/>
<path d="M549.5 322.7L561.9 326.6" stroke="#000" stroke-width="1" fill="none"/><path d="M568.4 328.7L556.9 329.4L561.9 326.6L559.4 321.4Z" fill="#000" stroke="#000" stroke-width="0.7" stroke-linejoin="miter"/>
<path d="M573.2 322.7L585.7 326.6" stroke="#000" stroke-width="1" fill="none"/><path d="M592.1 328.7L580.6 329.4L585.7 326.6L583.1 321.4Z" fill="#000" stroke="#000" stroke-width="0.7" stroke-linejoin="miter"/>
<path d="M597.0 322.1L609.5 326.9" stroke="#000" stroke-width="1" fill="none"/><path d="M615.9 329.3L604.3 329.4L609.5 326.9L607.3 321.5Z" fill="#000" stroke="#000" stroke-width="0.7" stroke-linejoin="miter"/>
<path d="M620.7 322.7L633.1 326.6" stroke="#000" stroke-width="1" fill="none"/><path d="M639.5 328.7L628.0 329.4L633.1 326.6L630.5 321.4Z" fill="#000" stroke="#000" stroke-width="0.7" stroke-linejoin="miter"/>
<path d="M644.6 322.1L656.8 326.9" stroke="#000" stroke-width="1" fill="none"/><path d="M663.1 329.3L651.5 329.3L656.8 326.9L654.6 321.5Z" fill="#000" stroke="#000" stroke-width="0.7" stroke-linejoin="miter"/>
<path d="M668.2 322.1L680.6 326.9" stroke="#000" stroke-width="1" fill="none"/><path d="M687.0 329.3L675.4 329.4L680.6 326.9L678.4 321.5Z" fill="#000" stroke="#000" stroke-width="0.7" stroke-linejoin="miter"/>
<path d="M692.4 321.4L704.1 327.0" stroke="#000" stroke-width="1" fill="none"/><path d="M710.2 329.9L698.6 329.1L704.1 327.0L702.3 321.5Z" fill="#000" stroke="#000" stroke-width="0.7" stroke-linejoin="miter"/>
<path d="M716.5 321.4L727.5 326.9" stroke="#000" stroke-width="1" fill="none"/><path d="M733.6 329.9L722.0 328.9L727.5 326.9L725.8 321.4Z" fill="#000" stroke="#000" stroke-width="0.7" stroke-linejoin="miter"/>
<path d="M750.4 317.9L748.5 326.8" stroke="#000" stroke-width="1" fill="none"/><path d="M747.1 333.4L745.2 322.0L748.5 326.8L753.4 323.8Z" fill="#000" stroke="#000" stroke-width="0.7" stroke-linejoin="miter"/>
<path d="M773.9 318.3L772.3 326.4" stroke="#000" stroke-width="1" fill="none"/><path d="M771.0 333.1L769.0 321.7L772.3 326.4L777.2 323.3Z" fill="#000" stroke="#000" stroke-width="0.7" stroke-linejoin="miter"/>
<path d="M797.9 317.9L795.9 326.8" stroke="#000" stroke-width="1" fill="none"/><path d="M794.4 333.4L792.7 322.0L795.9 326.8L800.9 323.8Z" fill="#000" stroke="#000" stroke-width="0.7" stroke-linejoin="miter"/>
<path d="M820.8 318.3L819.8 326.3" stroke="#000" stroke-width="1" fill="none"/><path d="M819.0 333.1L816.1 321.9L819.8 326.3L824.5 322.9Z" fill="#000" stroke="#000" stroke-width="0.7" stroke-linejoin="miter"/>
<path d="M845.3 317.9L843.4 326.8" stroke="#000" stroke-width="1" fill="none"/><path d="M841.9 333.4L840.1 322.0L843.4 326.8L848.3 323.8Z" fill="#000" stroke="#000" stroke-width="0.7" stroke-linejoin="miter"/>
<g shape-rendering="crispEdges" fill="#262626">
<path d="M89 316H855V582H89ZM90 317V581H854V317Z" fill-rule="evenodd"/>
<rect x="90" y="581" width="8" height="1"/><rect x="846" y="581" width="8" height="1"/>
<rect x="90" y="515" width="8" height="1"/><rect x="846" y="515" width="8" height="1"/>
<rect x="90" y="448" width="8" height="1"/><rect x="846" y="448" width="8" height="1"/>
<rect x="90" y="382" width="8" height="1"/><rect x="846" y="382" width="8" height="1"/>
<rect x="90" y="316" width="8" height="1"/><rect x="846" y="316" width="8" height="1"/>
<rect x="133" y="317" width="1" height="6"/><rect x="133" y="575" width="1" height="6"/>
<rect x="229" y="317" width="1" height="6"/><rect x="229" y="575" width="1" height="6"/>
<rect x="325" y="317" width="1" height="6"/><rect x="325" y="575" width="1" height="6"/>
<rect x="421" y="317" width="1" height="6"/><rect x="421" y="575" width="1" height="6"/>
<rect x="516" y="317" width="1" height="6"/><rect x="516" y="575" width="1" height="6"/>
<rect x="612" y="317" width="1" height="6"/><rect x="612" y="575" width="1" height="6"/>
<rect x="707" y="317" width="1" height="6"/><rect x="707" y="575" width="1" height="6"/>
<rect x="803" y="317" width="1" height="6"/><rect x="803" y="575" width="1" height="6"/>
</g>
<text x="79.8" y="588.5" text-anchor="end" font-size="20" fill="#262626">0</text>
<text x="79.8" y="522.2" text-anchor="end" font-size="20" fill="#262626">2</text>
<text x="79.8" y="456.0" text-anchor="end" font-size="20" fill="#262626">4</text>
<text x="79.8" y="389.8" text-anchor="end" font-size="20" fill="#262626">6</text>
<text x="79.8" y="323.5" text-anchor="end" font-size="20" fill="#262626">8</text>
<text transform="translate(54.3,449.1) rotate(-90)" text-anchor="middle" font-size="22.67" font-weight="bold" fill="#262626">Wave Height, ft</text>
<text x="1.5" y="598" font-size="12.45" font-weight="bold" fill="#000">Period, sec</text>
<text x="90.0" y="597.6" text-anchor="middle" font-size="9.3" fill="#000">6</text>
<text x="113.9" y="597.6" text-anchor="middle" font-size="9.3" fill="#000">5</text>
<text x="137.8" y="597.6" text-anchor="middle" font-size="9.3" fill="#000">4</text>
<text x="161.7" y="597.6" text-anchor="middle" font-size="9.3" fill="#000">5</text>
<text x="185.6" y="597.6" text-anchor="middle" font-size="9.3" fill="#000">21</text>
<text x="209.5" y="597.6" text-anchor="middle" font-size="9.3" fill="#000">18</text>
<text x="233.4" y="597.6" text-anchor="middle" font-size="9.3" fill="#000">15</text>
<text x="257.3" y="597.6" text-anchor="middle" font-size="9.3" fill="#000">13</text>
<text x="281.2" y="597.6" text-anchor="middle" font-size="9.3" fill="#000">12</text>
<text x="305.1" y="597.6" text-anchor="middle" font-size="9.3" fill="#000">10</text>
<text x="329.0" y="597.6" text-anchor="middle" font-size="9.3" fill="#000">10</text>
<text x="352.9" y="597.6" text-anchor="middle" font-size="9.3" fill="#000">6</text>
<text x="376.8" y="597.6" text-anchor="middle" font-size="9.3" fill="#000">7</text>
<text x="400.7" y="597.6" text-anchor="middle" font-size="9.3" fill="#000">6</text>
<text x="424.6" y="597.6" text-anchor="middle" font-size="9.3" fill="#000">5</text>
<text x="448.5" y="597.6" text-anchor="middle" font-size="9.3" fill="#000">5</text>
<text x="472.4" y="597.6" text-anchor="middle" font-size="9.3" fill="#000">14</text>
<text x="496.3" y="597.6" text-anchor="middle" font-size="9.3" fill="#000">13</text>
<text x="520.2" y="597.6" text-anchor="middle" font-size="9.3" fill="#000">12</text>
<text x="544.1" y="597.6" text-anchor="middle" font-size="9.3" fill="#000">11</text>
<text x="568.0" y="597.6" text-anchor="middle" font-size="9.3" fill="#000">19</text>
<text x="591.9" y="597.6" text-anchor="middle" font-size="9.3" fill="#000">17</text>
<text x="615.8" y="597.6" text-anchor="middle" font-size="9.3" fill="#000">14</text>
<text x="639.7" y="597.6" text-anchor="middle" font-size="9.3" fill="#000">13</text>
<text x="663.6" y="597.6" text-anchor="middle" font-size="9.3" fill="#000">12</text>
<text x="687.5" y="597.6" text-anchor="middle" font-size="9.3" fill="#000">11</text>
<text x="711.4" y="597.6" text-anchor="middle" font-size="9.3" fill="#000">11</text>
<text x="735.3" y="597.6" text-anchor="middle" font-size="9.3" fill="#000">11</text>
<text x="759.2" y="597.6" text-anchor="middle" font-size="9.3" fill="#000">6</text>
<text x="783.1" y="597.6" text-anchor="middle" font-size="9.3" fill="#000">6</text>
<text x="807.0" y="597.6" text-anchor="middle" font-size="9.3" fill="#000">7</text>
<text x="830.9" y="597.6" text-anchor="middle" font-size="9.3" fill="#000">6</text>
<text x="854.8" y="597.6" text-anchor="middle" font-size="9.3" fill="#000">6</text>
</svg>
</body></html>
